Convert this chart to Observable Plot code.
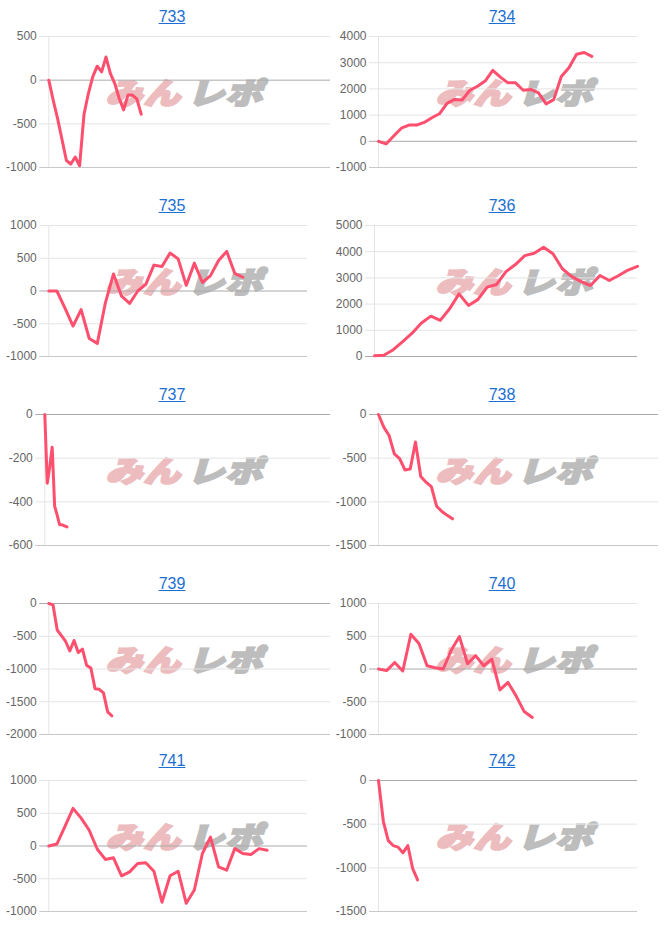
<!DOCTYPE html>
<html><head><meta charset="utf-8">
<script src="https://cdn.jsdelivr.net/npm/d3@7"></script>
<script src="https://cdn.jsdelivr.net/npm/@observablehq/plot@0.6"></script>
<style>
body{margin:0;background:#fff;font-family:"Liberation Sans",Arial,sans-serif;}
#root{position:relative;width:666px;height:930px;overflow:hidden;}
.title{position:absolute;transform:translateX(-50%);font-size:16px;line-height:18px;color:#1b6fd2;text-decoration:underline;white-space:nowrap;}
.wm{position:absolute;transform:translate(-50%,-50%) skewX(-16deg) scale(1.08,0.86);font-family:"Noto Sans CJK JP",sans-serif;font-weight:900;font-size:34px;line-height:34px;letter-spacing:1px;white-space:nowrap;}
.wm .a{color:#ecbcbe;-webkit-text-stroke:2.5px #ecbcbe;}
.wm .b{color:#bdbdbd;-webkit-text-stroke:2.5px #bdbdbd;margin-left:6px;}
.panel{position:absolute;}
</style></head><body><div id="root"></div>
<script>
// machine numbers (panel titles)
const machines = ["733","734","735","736","737","738","739","740","741","742"];

// cumulative values per machine
const values733 = [0,-230,-440,-680,-920,-960,-880,-980,-390,-150,40,160,95,265,75,-40,-210,-340,-170,-170,-215,-390];
const values734 = [0,-100,200,500,620,620,720,900,1050,1450,1600,1580,1950,2100,2300,2710,2450,2230,2230,1950,1980,1850,1430,1590,2470,2810,3320,3390,3240];
const values735 = [0,0,-260,-535,-285,-725,-800,-180,260,-80,-190,0,100,395,375,580,490,85,425,130,235,465,605,270,210];
const values736 = [30,50,260,570,890,1280,1540,1380,1820,2390,1950,2170,2650,2750,3240,3510,3850,3940,4170,3920,3350,3050,2860,2710,3090,2900,3090,3300,3440];
const values737 = [0,-315,-240,-150,-420,-460,-505,-505,-510,-515];
const values738 = [0,-145,-240,-450,-505,-635,-625,-315,-710,-775,-825,-1050,-1110,-1155,-1195];
const values739 = [0,-20,-405,-490,-580,-725,-565,-748,-697,-945,-985,-1300,-1310,-1365,-1655,-1715];
const values740 = [0,-25,100,-30,530,390,50,20,0,290,495,80,205,50,150,-320,-205,-410,-650,-740];
const values741 = [0,30,300,575,425,240,-50,-205,-180,-455,-395,-268,-255,-385,-858,-455,-385,-875,-672,-115,135,-318,-370,-40,-115,-130,-40,-65];
const values742 = [0,-470,-688,-745,-763,-828,-745,-1010,-1138];

// number of x categories (slots) on each chart's hidden x axis
const slots = [64,34,32,28,116,53,67,32,32,53];

// y tick labels per chart
const ticks733 = [-1000,-500,0,500];
const ticks734 = [-1000,0,1000,2000,3000,4000];
const ticks735 = [-1000,-500,0,500,1000];
const ticks736 = [0,1000,2000,3000,4000,5000];
const ticks737 = [-600,-400,-200,0];
const ticks738 = [-1500,-1000,-500,0];
const ticks739 = [-2000,-1500,-1000,-500,0];
const ticks740 = [-1000,-500,0,500,1000];
const ticks741 = [-1000,-500,0,500,1000];
const ticks742 = [-1500,-1000,-500,0];

const allValues = [values733,values734,values735,values736,values737,values738,values739,values740,values741,values742];
const allTicks = [ticks733,ticks734,ticks735,ticks736,ticks737,ticks738,ticks739,ticks740,ticks741,ticks742];

// layout (pixels)
const rowTops = [36,225,414,603,780];
const plotH = 131;
const axisXs = [48.3,378,48.3,374,44.3,378,48.3,378,48.3,378];
const rights = [330,637,307,637,330,658,330,637,307,637];

const root = document.getElementById("root");
const LINE = "#ff4f6e";

machines.forEach((name, k) => {
  const col = k % 2, row = Math.floor(k / 2);
  const left = col === 0 ? 0 : 333;
  const top = rowTops[row];
  const vals = allValues[k];
  const ticks = allTicks[k];
  const lo = d3.min(ticks), hi = d3.max(ticks);
  const pad = 10;

  // title
  const t = document.createElement("div");
  t.className = "title";
  t.textContent = name;
  t.style.left = (col === 0 ? 172 : 502) + "px";
  t.style.top = (top - 19 - 9) + "px";
  root.appendChild(t);

  // watermark
  const w = document.createElement("div");
  w.className = "wm";
  w.innerHTML = '<span class="a">みん</span><span class="b">レポ</span>';
  w.style.left = (col === 0 ? 188 : 518) + "px";
  w.style.top = (top + 56) + "px";
  root.appendChild(w);

  const marginLeft = axisXs[k] - left;
  const svg = Plot.plot({
    width: rights[k] - left + 2,
    height: plotH + 2 * pad,
    marginTop: pad, marginBottom: pad, marginLeft, marginRight: 2,
    x: {domain: [0, slots[k]], axis: null},
    y: {domain: [lo, hi], axis: null},
    style: {background: "transparent", fontFamily: "'Liberation Sans', Arial, sans-serif", overflow: "visible"},
    marks: [
      Plot.ruleY(ticks.filter(v => v !== 0 && v !== lo), {y: d => d, stroke: "#e4e4e4", insetLeft: -9}),
      Plot.ruleY([lo].filter(v => v !== 0), {y: d => d, stroke: "#c8c8c8", insetLeft: -9}),
      Plot.ruleY([0], {y: d => d, stroke: "#aaaaaa", insetLeft: -9}),
      Plot.ruleX([0], {x: d => d, stroke: "#e4e4e4"}),
      Plot.axisY({ticks, tickSize: 0, tickPadding: 12, tickFormat: d => String(d), fill: "#666", fontSize: 12}),
      Plot.line(vals, {x: (d, i) => i, y: d => d, stroke: LINE, strokeWidth: 3, strokeLinejoin: "round", strokeLinecap: "round"})
    ]
  });
  svg.classList.add("panel");
  svg.style.left = left + "px";
  svg.style.top = (top - pad) + "px";
  root.appendChild(svg);
});
</script>
</body></html>
